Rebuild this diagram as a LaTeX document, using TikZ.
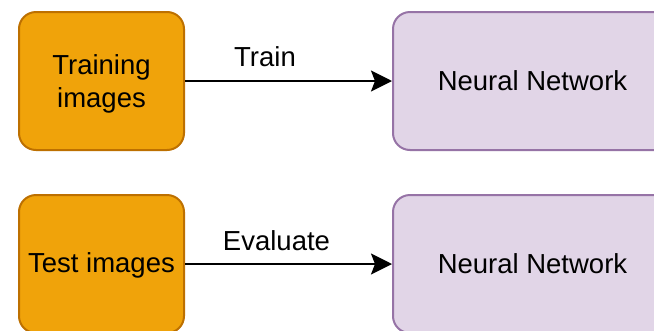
\documentclass[tikz,border=0pt]{standalone}
\usepackage{fontspec}
\setmainfont{Liberation Sans}
\usetikzlibrary{arrows.meta}
\definecolor{orfill}{HTML}{F0A30A}
\definecolor{ordraw}{HTML}{BD7000}
\definecolor{pufill}{HTML}{E1D5E7}
\definecolor{pudraw}{HTML}{9673A6}
\tikzset{
  boxfont/.style={font=\fontsize{27.5}{33}\selectfont},
  databox/.style={rectangle, rounded corners=17pt, fill=orfill, draw=ordraw,
    line width=2pt, minimum width=165pt, minimum height=138pt, inner sep=0pt},
  datatext/.style={inner sep=0pt, align=center, boxfont},
  netbox/.style={rectangle, rounded corners=17pt, fill=pufill, draw=pudraw,
    line width=2pt, minimum width=279pt, minimum height=138pt, inner sep=0pt,
    align=center, boxfont},
  flow/.style={line width=2pt, -{Stealth[length=21pt,width=21pt,inset=4pt]}},
  lbl/.style={anchor=base, inner sep=0pt, boxfont}
}
\begin{document}
\begin{tikzpicture}[x=1pt,y=-1pt]
\useasboundingbox (0,0) rectangle (654,330);
\fill[white] (0,0) rectangle (654,330);
\clip (0,0) rectangle (654,330);
% training path
\node[databox] (train) at (101.5,81) {};
\node[datatext] (traintxt) at ([yshift=-2.5pt]train.center) {Training\\images};
\node[netbox] (net1) at (532.5,81) {Neural Network};
\draw[flow] (train.east) -- (net1.west);
\node[lbl] (trainlbl) at (265,66) {Train};
% evaluation path
\node[databox] (test) at (101.5,264) {};
\node[datatext] (testtxt) at ([yshift=-1.5pt]test.center) {Test images};
\node[netbox] (net2) at (532.5,264) {Neural Network};
\draw[flow] (test.east) -- (net2.west);
\node[lbl] (evallbl) at (276.5,250) {Evaluate};
\end{tikzpicture}
\end{document}
